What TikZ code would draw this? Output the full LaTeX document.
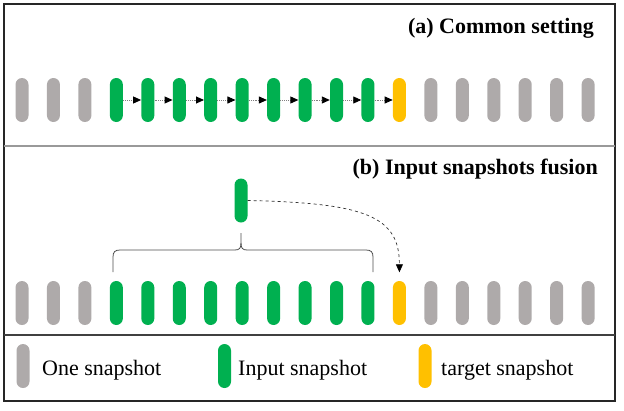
\documentclass[tikz,border=0pt]{standalone}
\usepackage{fontspec}
\setmainfont{Liberation Serif}
\usetikzlibrary{arrows.meta}
\definecolor{capgray}{HTML}{AEAAAA}
\definecolor{capgreen}{HTML}{00B050}
\definecolor{capyellow}{HTML}{FFC000}
\begin{document}
\begin{tikzpicture}[x=1pt,y=-1pt,
  capsule/.style={rectangle,rounded corners=6.5pt,minimum width=13pt,minimum height=44pt,inner sep=0pt,draw=none},
  grayc/.style={capsule,fill=capgray},
  greenc/.style={capsule,fill=capgreen},
  yellowc/.style={capsule,fill=capyellow},
  title/.style={font=\fontsize{22}{26}\selectfont\bfseries,anchor=base east,inner sep=0pt},
  legtext/.style={font=\fontsize{22}{26}\selectfont,anchor=base west,inner sep=0pt},
  steparrow/.style={densely dotted,line width=0.9pt,draw=gray,-{Triangle[length=8pt,width=7pt,color=black]}},
  fusearrow/.style={dashed,line width=0.7pt,draw=black!80,-{Triangle[length=8pt,width=7pt,color=black]}},
  bracepath/.style={draw=black!70,line width=0.8pt}
]
\useasboundingbox (0,0) rectangle (624,410);
% frame and separators
\draw[black!85,line width=1.2pt] (4,4) rectangle (615,401);
\draw[black!40,line width=2pt] (4,146) -- (615,146);
\draw[black!75,line width=1.2pt] (4,335) -- (615,335);
% titles
\node[title] (ta) at (594,33) {(a) Common setting};
\node[title] (tb) at (598,174) {(b) Input snapshots fusion};
% rows
\foreach \i in {0,...,18}{
  \pgfmathsetmacro{\xx}{22+31.45*\i}
  \ifnum\i<3
    \node[grayc] (a\i) at (\xx,100) {};
    \node[grayc] (b\i) at (\xx,303) {};
  \else\ifnum\i<12
    \node[greenc] (a\i) at (\xx,100) {};
    \node[greenc] (b\i) at (\xx,303) {};
  \else\ifnum\i=12
    \node[yellowc] (a\i) at (\xx,100) {};
    \node[yellowc] (b\i) at (\xx,303) {};
  \else
    \node[grayc] (a\i) at (\xx,100) {};
    \node[grayc] (b\i) at (\xx,303) {};
  \fi\fi\fi
}
\foreach \i [evaluate=\i as \j using int(\i+1)] in {3,...,11}{
  \draw[steparrow] (a\i.east) -- (a\j.west);
}
% fusion
\node[greenc] (f) at (241,200.5) {};
\draw[bracepath] (113,272) -- (113,257) .. controls (113,252) and (115,250) .. (120,250)
  -- (235,250) .. controls (239.5,250) and (241,248) .. (241,243) -- (241,233);
\draw[bracepath] (241,243) .. controls (241,248) and (242.5,250) .. (247,250)
  -- (366,250) .. controls (371,250) and (373,252) .. (373,257) -- (373,272);
\draw[fusearrow,shorten >=8.5pt] (f.east) .. controls (365,203) and (399.5,216) .. (b12.north);
% legend
\node[grayc] (l1) at (23,366) {};
\node[legtext] (lt1) at (42,375) {One snapshot};
\node[greenc] (l2) at (224.5,366) {};
\node[legtext] (lt2) at (238,375) {Input snapshot};
\node[yellowc] (l3) at (425,366) {};
\node[legtext] (lt3) at (441,375) {target snapshot};
\end{tikzpicture}
\end{document}
